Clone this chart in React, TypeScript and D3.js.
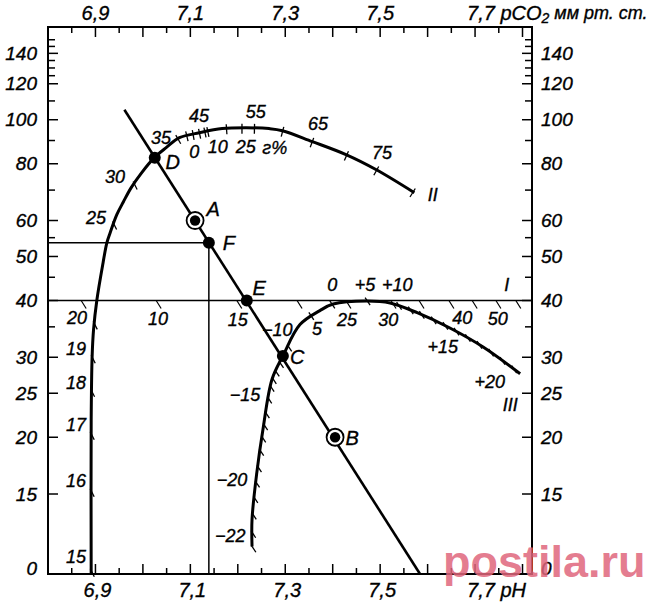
import React, { useEffect, useRef } from "react";
import * as d3 from "d3";

// ---------- scales' domains ----------
const PH_DOMAIN: [number, number] = [6.8, 7.82];
const PCO2_DOMAIN: [number, number] = [10, 160];

// ---------- axis ticks ----------
const phTicks = [6.85, 6.9, 6.95, 7.0, 7.05, 7.1, 7.15, 7.2, 7.25, 7.3, 7.35, 7.4, 7.45, 7.5, 7.55, 7.6, 7.65, 7.7, 7.75, 7.8];
const phMajor = [6.9, 7.0, 7.1, 7.2, 7.3, 7.4, 7.5, 7.6, 7.7, 7.8];
const phLabels = [
  { v: 6.9, t: "6,9" },
  { v: 7.1, t: "7,1" },
  { v: 7.3, t: "7,3" },
  { v: 7.5, t: "7,5" },
];
const pco2Ticks = [15, 20, 25, 30, 35, 40, 45, 50, 55, 60, 70, 80, 90, 100, 110, 120, 125, 130, 135, 140, 145, 150];
const pco2Labels = [
  { v: 140, t: "140" }, { v: 120, t: "120" }, { v: 100, t: "100" }, { v: 80, t: "80" },
  { v: 60, t: "60" }, { v: 50, t: "50" }, { v: 40, t: "40" }, { v: 30, t: "30" },
  { v: 25, t: "25" }, { v: 20, t: "20" }, { v: 15, t: "15" }, { v: 10, t: "0" },
];

// ---------- curves (pH, pCO2) ----------
// buffer base curve (left branch + curve II)
const bbCurve: [number, number][] = [
  [6.891, 10], [6.891, 21.8], [6.893, 30.1], [6.896, 34.5], [6.903, 40.1], [6.916, 48.4],
  [6.924, 53.6], [6.931, 56.4], [6.945, 61.8], [6.959, 66.0], [6.975, 70.8], [6.996, 76.1],
  [7.024, 82.5], [7.049, 86.8], [7.077, 91.3], [7.119, 93.6], [7.167, 95.6], [7.218, 96.0],
  [7.266, 95.6], [7.294, 94.6], [7.357, 89.5], [7.428, 83.8], [7.492, 77.6], [7.572, 69.1],
];
// base excess curve III
const beCurve: [number, number][] = [
  [7.23, 11.5], [7.23, 13.2], [7.24, 16.7], [7.253, 20.8], [7.272, 26.8], [7.295, 30.2],
  [7.331, 35.4], [7.373, 38.0], [7.401, 39.3], [7.472, 39.9], [7.521, 39.5], [7.578, 37.6],
  [7.647, 34.8], [7.717, 31.6], [7.795, 27.6],
];
// CO2 equilibration line
const mainLine: [number, number][] = [[6.961, 105.2], [7.584, 10]];
const lineIpCO2 = 40;

// ---------- ticks on curves ----------
const bbTicksLow = [10.2, 15.3, 20.4, 25.4, 30.1, 35.7, 59.3, 72.6]; // by pCO2
const bbTicksHigh = [7.074, 7.093, 7.106, 7.12, 7.131, 7.137, 7.177, 7.209, 7.236, 7.295, 7.358, 7.43, 7.493, 7.57]; // by pH
const beTicksLow = [11.5, 12.4, 13.6, 14.8, 16.0, 17.3, 18.8, 20.1, 21.4, 22.7, 24.5, 26.0, 27.0, 28.1, 29.3, 31.9]; // by pCO2
const beTicksHigh = [7.355, 7.399, 7.473, 7.54, 7.564, 7.588, 7.613, 7.637, 7.661, 7.685, 7.709, 7.734, 7.758, 7.782]; // by pH
const lineITicks = [6.872, 7.03, 7.2, 7.327, 7.43, 7.525, 7.584, 7.647, 7.696, 7.746, 7.788];

// ---------- labels (text, pH, pCO2) ----------
const bbLabels: [string, number, number][] = [
  ["15", 6.859, 10.9], ["16", 6.859, 16.0], ["17", 6.859, 21.3], ["18", 6.859, 26.3],
  ["19", 6.859, 31.3], ["20", 6.861, 36.6], ["25", 6.901, 60.8], ["30", 6.941, 74.9],
  ["35", 7.038, 91.3], ["45", 7.118, 102.0], ["55", 7.238, 104.1], ["65", 7.369, 98.0],
  ["75", 7.504, 84.6], ["II", 7.611, 68.4],
];
const hbLabels: [string, number, number][] = [
  ["0", 7.108, 85.0], ["10", 7.158, 87.2], ["25", 7.217, 87.2], ["г%", 7.278, 86.8],
];
const lineILabels: [string, number, number][] = [
  ["10", 7.032, 36.5], ["15", 7.2, 36.3], ["25", 7.43, 36.3], ["30", 7.517, 36.3],
  ["40", 7.673, 36.6], ["50", 7.748, 36.5], ["I", 7.767, 43.3],
];
const beLabels: [string, number, number][] = [
  ["−22", 7.184, 12.1], ["−20", 7.188, 16.1], ["−15", 7.215, 24.8], ["−10", 7.283, 34.5],
  ["5", 7.367, 34.6], ["0", 7.399, 43.3], ["+5", 7.468, 43.3], ["+10", 7.536, 43.3],
  ["+15", 7.632, 31.6], ["+20", 7.731, 26.5], ["III", 7.774, 23.6],
];

// ---------- points ----------
const points = [
  { name: "D", ph: 7.025, p: 82.5, ring: false, lph: 7.063, lp: 80.8 },
  { name: "A", ph: 7.11, p: 60, ring: true, lph: 7.148, lp: 63.7 },
  { name: "F", ph: 7.139, p: 53.6, ring: false, lph: 7.181, lp: 53.6 },
  { name: "E", ph: 7.219, p: 40, ring: false, lph: 7.245, lp: 42.7 },
  { name: "C", ph: 7.295, p: 30.2, ring: false, lph: 7.325, lp: 30.1 },
  { name: "B", ph: 7.405, p: 20, ring: true, lph: 7.441, lp: 19.9 },
];
const fPoint = points[2];

const FONT = "'Liberation Sans', Arial, sans-serif";

export default function App() {
  const ref = useRef<SVGSVGElement>(null);

  useEffect(() => {
    const svg = d3.select(ref.current);
    svg.selectAll("*").remove();
    const L = 48, R = 532, T = 27, B = 574;
    const x = d3.scaleLinear().domain(PH_DOMAIN).range([L, R]);
    const y = d3.scaleLog().domain(PCO2_DOMAIN).range([B, T]);

    svg.append("rect").attr("width", 660).attr("height", 604).attr("fill", "#fff");
    const g = svg.append("g").attr("stroke", "#000").attr("fill", "none").attr("stroke-linecap", "butt");

    // frame
    g.append("rect").attr("x", L).attr("y", T).attr("width", R - L).attr("height", B - T).attr("stroke-width", 2);

    // pH ticks (top and bottom, inward)
    phTicks.forEach((v) => {
      const major = phMajor.some((m) => Math.abs(m - v) < 1e-6);
      const len = major ? 10 : 6;
      g.append("line").attr("x1", x(v)).attr("x2", x(v)).attr("y1", T).attr("y2", T + len).attr("stroke-width", 1.5);
      g.append("line").attr("x1", x(v)).attr("x2", x(v)).attr("y1", B).attr("y2", B - len).attr("stroke-width", 1.5);
    });
    // pCO2 ticks (left and right, inward)
    pco2Ticks.forEach((v) => {
      const major = pco2Labels.some((l) => l.v === v);
      const len = major ? 10 : 7;
      g.append("line").attr("x1", L).attr("x2", L + len).attr("y1", y(v)).attr("y2", y(v)).attr("stroke-width", 1.5);
      g.append("line").attr("x1", R).attr("x2", R - len).attr("y1", y(v)).attr("y2", y(v)).attr("stroke-width", 1.5);
    });

    // line I (pCO2 = 40)
    g.append("line").attr("x1", L).attr("x2", R).attr("y1", y(lineIpCO2)).attr("y2", y(lineIpCO2)).attr("stroke-width", 1.6);
    lineITicks.forEach((v) => {
      const x0 = x(v), y0 = y(lineIpCO2);
      g.append("line").attr("x1", x0 - 1).attr("y1", y0).attr("x2", x0 + 4).attr("y2", y0 + 8).attr("stroke-width", 1.2);
    });

    // F guide lines
    g.append("line").attr("x1", L).attr("x2", x(fPoint.ph)).attr("y1", y(fPoint.p)).attr("y2", y(fPoint.p)).attr("stroke-width", 1.5);
    g.append("line").attr("x1", x(fPoint.ph)).attr("x2", x(fPoint.ph)).attr("y1", y(fPoint.p)).attr("y2", B).attr("stroke-width", 1.5);

    const lineGen = d3.line<[number, number]>().x((d) => x(d[0])).y((d) => y(d[1])).curve(d3.curveCatmullRom.alpha(0.5));

    const drawCurve = (data: [number, number][], w: number) => {
      const p = g.append("path").attr("d", lineGen(data) as string).attr("stroke-width", w).attr("stroke-linejoin", "round");
      const node = p.node() as SVGPathElement;
      const total = node.getTotalLength();
      const samples: { x: number; y: number }[] = [];
      for (let s = 0; s <= total; s += 0.5) {
        const pt = node.getPointAtLength(s);
        samples.push({ x: pt.x, y: pt.y });
      }
      return samples;
    };

    const findAt = (samples: { x: number; y: number }[], by: "x" | "y", target: number) => {
      let idx = -1;
      for (let i = 0; i < samples.length - 1; i++) {
        const a = samples[i][by] - target, b = samples[i + 1][by] - target;
        if (a === 0 || a * b < 0) { idx = i; break; }
      }
      if (idx < 0) {
        let best = 0, bd = Infinity;
        samples.forEach((s, i) => { const d = Math.abs(s[by] - target); if (d < bd) { bd = d; best = i; } });
        idx = best;
      }
      const i0 = Math.max(0, idx - 4), i1 = Math.min(samples.length - 1, idx + 4);
      let tx = samples[i1].x - samples[i0].x, ty = samples[i1].y - samples[i0].y;
      const n = Math.hypot(tx, ty) || 1;
      tx /= n; ty /= n;
      return { x: samples[idx].x, y: samples[idx].y, tx, ty };
    };

    const drawTick = (pt: { x: number; y: number }, dx: number, dy: number, a: number, b: number, w = 1.3) => {
      const n = Math.hypot(dx, dy);
      const ux = dx / n, uy = dy / n;
      g.append("line")
        .attr("x1", pt.x - ux * a).attr("y1", pt.y - uy * a)
        .attr("x2", pt.x + ux * b).attr("y2", pt.y + uy * b)
        .attr("stroke-width", w);
    };

    // buffer base curve
    const bbS = drawCurve(bbCurve, 3);
    bbTicksLow.forEach((v) => {
      const pt = findAt(bbS, "y", y(v));
      drawTick(pt, 0.45, 0.9, 2, 7);
    });
    bbTicksHigh.forEach((v) => {
      const pt = findAt(bbS, "x", x(v));
      let nx = -pt.ty, ny = pt.tx;
      if (ny < 0) { nx = -nx; ny = -ny; }
      drawTick(pt, nx, ny, 4, 6);
    });

    // base excess curve
    const beS = drawCurve(beCurve, 3);
    beTicksLow.forEach((v) => {
      const pt = findAt(beS, "y", y(v));
      drawTick(pt, 0.55, 0.83, 1, 7);
    });
    beTicksHigh.forEach((v) => {
      const pt = findAt(beS, "x", x(v));
      drawTick(pt, 0.55, 0.83, 4, 5);
    });

    // CO2 equilibration line
    g.append("line")
      .attr("x1", x(mainLine[0][0])).attr("y1", y(mainLine[0][1]))
      .attr("x2", x(mainLine[1][0])).attr("y2", y(mainLine[1][1]))
      .attr("stroke-width", 2.6);

    // points
    points.forEach((p) => {
      if (p.ring) {
        svg.append("circle").attr("cx", x(p.ph)).attr("cy", y(p.p)).attr("r", 8.5).attr("fill", "#fff").attr("stroke", "#000").attr("stroke-width", 1.8);
        svg.append("circle").attr("cx", x(p.ph)).attr("cy", y(p.p)).attr("r", 5.2).attr("fill", "#000");
      } else {
        svg.append("circle").attr("cx", x(p.ph)).attr("cy", y(p.p)).attr("r", 6).attr("fill", "#000");
      }
    });

    // texts
    const txt = svg.append("g").attr("font-family", FONT).attr("font-style", "italic").attr("fill", "#000")
      .attr("stroke", "#000").attr("stroke-width", 0.35);
    const addText = (t: string, px: number, py: number, size: number, anchor = "middle") =>
      txt.append("text").attr("x", px).attr("y", py).attr("font-size", size)
        .attr("text-anchor", anchor).attr("dominant-baseline", "central").text(t);

    pco2Labels.forEach((l) => {
      const yy = l.v === 10 ? y(l.v) - 6 : y(l.v);
      addText(l.t, 37, yy, 19, "end");
      addText(l.t, 541, yy, 19, "start");
    });
    phLabels.forEach((l) => {
      addText(l.t, x(l.v), 13, 20);
      addText(l.t, x(l.v) + 2, 590, 20);
    });
    // top right title
    const top = txt.append("text").attr("x", x(7.7) - 8).attr("y", 13).attr("font-size", 20).attr("dominant-baseline", "central");
    top.append("tspan").text("7,7 pCO");
    top.append("tspan").attr("font-size", 14).attr("dy", 5).text("2");
    top.append("tspan").attr("dy", -5).attr("font-size", 18).text(" мм рт. ст.");
    addText("7,7 pH", x(7.7) - 8, 590, 20, "start");

    [...bbLabels, ...hbLabels, ...lineILabels, ...beLabels].forEach(([t, ph, p]) => addText(t, x(ph), y(p), 18));
    points.forEach((p) => addText(p.name, x(p.lph), y(p.lp), 20));

    // watermark
    svg.append("text").attr("x", 443).attr("y", 577).attr("font-family", FONT).attr("font-weight", "bold")
      .attr("font-size", 45).attr("fill", "#e0667c").attr("fill-opacity", 0.85).text("postila.ru");
  }, []);

  return <svg ref={ref} width={660} height={604} style={{ position: "absolute", left: 0, top: 0, display: "block" }} />;
}
